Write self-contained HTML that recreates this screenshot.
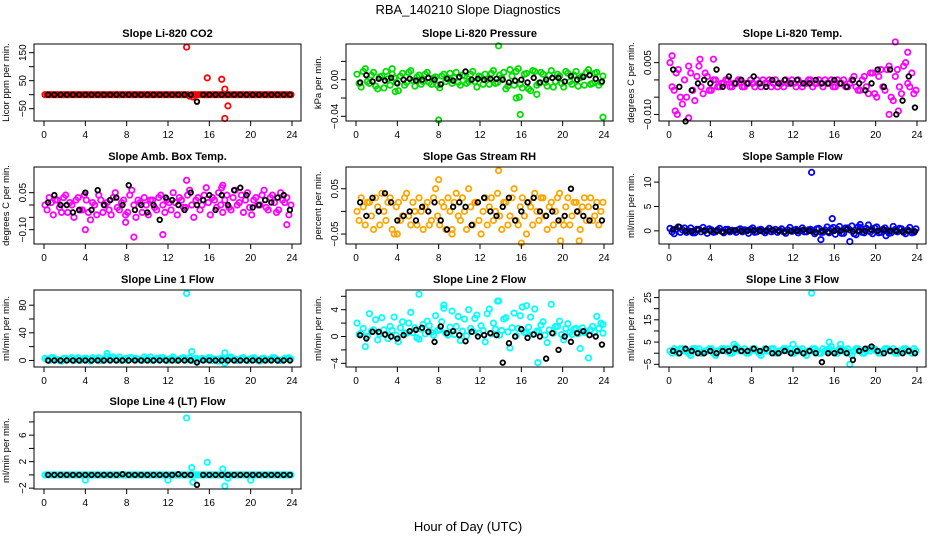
<!DOCTYPE html>
<html><head><meta charset="utf-8"><style>
html,body{margin:0;padding:0;background:#fff;}
svg{display:block;font-family:"Liberation Sans",Arial,sans-serif;}
</style></head><body>
<svg id="chart" width="936" height="540" viewBox="0 0 936 540" xmlns="http://www.w3.org/2000/svg">
<rect x="0" y="0" width="936" height="540" fill="#fff"/>
<text x="468" y="14" text-anchor="middle" font-size="13">RBA_140210  Slope Diagnostics</text>
<text x="468" y="531" text-anchor="middle" font-size="13">Hour of Day (UTC)</text>
</svg>
<script>
const hoursC=[0.1,0.5,0.9,1.3,1.7,2.1,2.5,2.9,3.3,3.7,4.1,4.5,4.9,5.3,5.7,6.1,6.5,6.9,7.3,7.7,8.1,8.5,8.9,9.3,9.7,10.1,10.5,10.9,11.3,11.7,12.1,12.5,12.9,13.3,13.7,14.1,14.5,14.9,15.3,15.7,16.1,16.5,16.9,17.3,17.7,18.1,18.5,18.9,19.3,19.7,20.1,20.5,20.9,21.3,21.7,22.1,22.5,22.9,23.3,23.7];
const hoursC2=[0.3,0.7,1.1,1.5,1.9,2.3,2.7,3.1,3.5,3.9,4.3,4.7,5.1,5.5,5.9,6.3,6.7,7.1,7.5,7.9,8.3,8.7,9.1,9.5,9.9,10.3,10.7,11.1,11.5,11.9,12.3,12.7,13.1,13.5,13.9,14.3,14.7,15.1,15.5,15.9,16.3,16.7,17.1,17.5,17.9,18.3,18.7,19.1,19.5,19.9,20.3,20.7,21.1,21.5,21.9,22.3,22.7,23.1,23.5,23.9];
const hoursK=[0.4,1.0,1.6,2.2,2.8,3.4,4.0,4.6,5.2,5.8,6.4,7.0,7.6,8.2,8.8,9.4,10.0,10.6,11.2,11.8,12.4,13.0,13.6,14.2,14.8,15.4,16.0,16.6,17.2,17.8,18.4,19.0,19.6,20.2,20.8,21.4,22.0,22.6,23.2,23.8];
const xTicks=[0,4,8,12,16,20,24];

const co2C=[0,0,0,0,0,0,0,0,0,0,0,0,0,0,0,0,0,0,0,0,0,0,0,0,0,0,0,0,0,0,0,0,0,0,0,-5,0,0,0,0,0,0,0,0,0,0,0,0,0,0,0,0,0,0,0,0,0,0,0,0];
const co2C2=[0,0,0,0,0,0,0,0,0,0,0,0,0,0,0,0,0,0,0,0,0,0,0,0,0,0,0,0,0,0,0,0,0,0,0,0,0,0,0,0,0,0,0,0,0,0,0,0,0,0,0,0,0,0,0,0,0,0,0,0];
const co2K=[0,0,0,0,0,0,0,0,0,0,0,0,0,0,0,0,0,0,0,0,0,0,0,0,-25,0,0,0,0,0,0,0,0,0,0,0,0,0,0,0];
const co2OutX=[13.8,15.8,17.2,17.5,17.8,17.5,14.4];
const co2OutY=[170,60,55,20,-40,-85,-8];

const presC=[0.006,-0.008,0.012,-0.004,0.008,-0.010,0.004,0.009,-0.006,0.002,-0.012,0.007,-0.003,0.010,-0.007,0.005,-0.002,0.008,-0.005,0.003,-0.009,0.006,0.001,-0.004,0.008,-0.006,0.004,-0.002,0.009,-0.008,0.003,0.006,-0.005,0.010,-0.003,0.002,-0.010,0.011,-0.006,0.012,-0.009,0.007,-0.012,0.009,-0.004,0.006,-0.007,0.010,-0.002,0.004,-0.008,0.007,-0.005,0.009,0.002,-0.006,0.011,-0.004,0.008,-0.003];
const presC2=[-0.004,0.009,-0.002,0.005,-0.007,0.003,-0.009,0.001,0.006,-0.003,0.004,-0.006,0.008,-0.001,0.003,-0.005,0.006,-0.003,0.002,-0.006,0.004,-0.002,0.007,0.002,-0.003,0.005,-0.004,0.006,-0.002,0.004,-0.005,0.001,0.007,-0.004,0.005,0.008,-0.007,0.004,0.009,-0.005,0.006,-0.010,0.010,-0.006,0.008,-0.003,0.005,-0.008,0.006,-0.004,0.009,-0.002,0.005,-0.007,0.004,0.008,-0.005,0.007,-0.006,0.004];
const presK=[-0.003,0.005,-0.002,0.001,-0.001,0.002,-0.004,0.000,0.001,-0.001,0.000,0.002,0.000,-0.005,0.001,-0.001,0.003,0.009,0.000,0.001,0.000,0.001,0.001,0.000,-0.003,-0.001,0.000,-0.003,0.002,-0.003,0.000,0.002,0.002,-0.002,0.004,0.000,0.003,0.005,0.001,-0.002];
const presOutX=[13.8,8.0,15.5,15.9,23.9,3.8,17.5,15.8,3.5];
const presOutY=[0.037,-0.044,-0.020,-0.038,-0.041,-0.013,-0.016,-0.019,0.012];

const tempC=[0.005,-0.003,0.003,-0.007,-0.005,0.002,-0.006,0.004,-0.004,0.001,-0.003,0.000,-0.002,-0.001,0.000,-0.002,-0.001,0.000,-0.002,-0.001,-0.001,0.000,-0.002,-0.001,0.000,-0.001,-0.002,-0.001,0.000,-0.001,-0.001,0.000,-0.002,-0.001,0.000,-0.001,0.000,-0.002,-0.001,0.000,-0.002,-0.001,0.000,-0.002,0.000,-0.002,-0.003,0.001,-0.004,0.002,-0.005,0.003,-0.003,0.004,-0.006,0.003,-0.004,0.005,-0.002,-0.004];
const tempC2=[-0.002,0.002,-0.005,0.000,0.004,-0.003,0.001,-0.002,0.002,-0.003,0.000,-0.002,-0.001,0.000,-0.002,-0.001,0.000,-0.002,-0.001,0.000,-0.002,-0.001,0.000,-0.001,-0.002,0.000,-0.001,-0.002,-0.001,0.000,-0.002,-0.001,-0.001,0.000,-0.002,-0.001,-0.001,0.000,-0.001,-0.002,0.000,-0.001,-0.002,-0.001,0.001,-0.003,0.000,-0.002,0.002,-0.004,0.001,-0.002,0.003,-0.005,0.001,-0.002,0.004,-0.001,0.002,-0.003];
const tempK=[0.003,-0.002,-0.012,-0.003,-0.001,0.000,-0.001,0.003,-0.002,0.001,-0.001,0.000,-0.001,0.001,-0.001,-0.002,0.000,-0.001,0.000,-0.001,0.000,-0.001,-0.001,0.000,-0.001,-0.001,0.000,-0.001,-0.002,0.000,-0.001,-0.003,-0.001,0.003,-0.002,0.003,-0.010,-0.006,0.001,-0.008];
const tempOutX=[21.9,23.1,0.3,1.9,21.3,0.8,3.0,4.3,22.2,0.6];
const tempOutY=[0.011,0.008,0.007,-0.011,-0.010,-0.010,0.006,0.006,-0.009,-0.009];

const ambC=[0.000,0.030,-0.040,0.020,-0.030,0.040,0.010,-0.050,0.030,-0.020,0.020,-0.060,0.000,0.040,-0.030,0.010,-0.040,0.050,-0.020,0.020,-0.030,0.060,-0.050,0.010,0.030,-0.040,0.020,-0.020,0.040,-0.030,0.010,0.050,-0.040,0.020,-0.010,0.060,-0.050,0.030,0.000,0.070,-0.040,0.020,0.050,-0.030,0.040,-0.020,0.060,0.010,-0.030,0.050,-0.040,0.030,0.000,0.060,-0.020,0.040,-0.030,0.050,0.010,-0.040];
const ambC2=[-0.020,0.010,0.020,-0.010,0.030,-0.030,0.000,0.020,-0.020,0.040,-0.030,0.010,-0.040,0.020,0.000,-0.020,0.030,-0.010,0.010,-0.040,0.040,0.000,0.020,-0.030,0.000,0.020,-0.010,0.030,0.000,0.020,-0.020,0.010,0.030,-0.010,0.040,0.000,0.020,-0.020,0.040,0.010,0.030,-0.010,0.000,0.020,-0.010,0.030,0.000,0.040,0.020,-0.010,0.020,0.000,0.040,-0.010,0.030,0.010,-0.020,0.020,0.030,0.000];
const ambK=[0.010,0.040,0.000,0.000,-0.030,-0.020,0.050,-0.020,0.060,0.000,0.020,0.030,0.000,0.080,-0.020,0.000,-0.030,0.000,-0.060,0.030,0.020,0.000,-0.020,0.050,0.000,0.020,0.040,-0.020,0.040,0.000,0.060,0.070,0.040,-0.010,0.000,0.020,0.010,0.030,0.040,-0.020];
const ambOutX=[13.8,8.7,11.5,17.3,4.0,7.9,17.2,23.5];
const ambOutY=[0.100,-0.130,-0.120,0.080,-0.100,-0.070,0.070,-0.080];

const rhC=[0.000,0.030,-0.030,0.020,-0.040,0.010,0.040,-0.020,0.030,-0.050,0.020,-0.010,0.040,-0.030,0.000,0.030,-0.040,0.020,-0.020,0.050,-0.030,0.010,0.030,-0.040,0.040,-0.020,0.000,0.050,-0.030,0.020,-0.050,0.030,0.010,-0.020,0.040,-0.040,0.020,-0.010,0.050,-0.030,0.030,-0.050,0.010,0.040,-0.020,0.030,-0.040,0.020,0.000,0.040,-0.030,0.030,-0.010,0.020,-0.040,0.030,0.010,-0.020,0.020,0.000];
const rhC2=[-0.020,0.010,0.020,-0.010,0.030,-0.030,0.000,0.020,-0.040,0.010,-0.020,0.030,-0.010,0.020,-0.030,0.000,0.010,-0.030,0.030,-0.010,0.020,-0.040,0.000,0.020,-0.010,0.030,-0.040,0.010,0.020,-0.020,0.000,-0.030,0.030,0.000,-0.010,0.020,-0.030,0.030,-0.020,0.010,-0.010,0.020,-0.030,0.000,0.030,-0.010,0.010,-0.030,0.030,-0.020,0.010,-0.030,0.020,0.000,0.010,-0.020,0.030,-0.010,-0.030,0.020];
const rhK=[0.020,-0.010,0.030,0.000,0.040,0.020,-0.020,-0.010,0.000,-0.020,0.010,0.000,0.020,-0.020,-0.040,0.010,0.020,0.010,-0.030,0.020,0.030,0.000,-0.010,0.010,0.030,-0.020,0.000,0.020,0.030,0.000,-0.010,0.000,-0.020,-0.010,0.050,0.000,-0.010,-0.020,0.010,-0.020];
const rhOutX=[13.8,16.0,8.0,9.3,4.0,19.8,21.6];
const rhOutY=[0.090,-0.070,0.070,-0.050,-0.050,-0.065,-0.065];

const flowC=[0.5,-0.6,0.8,0.2,-0.3,0.6,-0.4,0.3,0.7,-0.5,0.2,-0.2,0.5,-0.4,0.3,0.1,-0.3,0.4,0.2,-0.5,0.6,-0.2,0.3,-0.4,0.5,0.0,-0.3,0.4,-0.5,0.7,0.1,-0.4,0.6,-0.2,0.3,-0.6,0.5,-0.3,0.8,0.4,-0.7,0.9,-0.5,0.6,1.0,-0.8,0.7,-0.4,1.2,-0.6,0.8,-0.3,0.6,-0.5,0.9,-0.2,0.4,-0.6,0.7,-0.3];
const flowC2=[-0.2,0.4,-0.3,0.6,0.0,-0.4,0.3,-0.2,0.1,0.4,-0.3,0.2,-0.1,0.3,-0.2,0.0,0.2,-0.2,0.1,0.3,-0.3,0.2,-0.1,0.1,-0.2,0.3,0.1,-0.2,0.2,-0.1,0.3,0.0,-0.2,0.2,-0.1,0.4,-0.3,0.2,-0.4,0.7,0.3,-0.5,0.6,0.2,-0.6,0.8,-0.3,0.5,-0.2,0.6,-0.4,0.3,0.1,-0.4,0.3,0.5,-0.3,0.2,-0.4,0.4];
const flowK=[0.3,0.8,0.0,-0.1,0.2,0.0,0.0,0.0,-0.2,0.0,0.1,0.0,0.0,0.1,0.0,0.0,0.2,0.0,-0.2,0.0,0.0,0.2,0.0,-0.3,0.0,-0.2,0.0,0.0,0.3,-0.1,0.0,0.0,0.2,0.0,0.2,0.0,0.0,-0.1,0.0,-0.1];
const flowOutX=[13.8,15.8,17.5,14.7,18.5,21.0];
const flowOutY=[12.0,2.5,-2.2,-1.8,1.3,-1.0];

const l1C=[3,0,4,1,-1,3,2,0,4,1,3,-1,2,4,0,6,3,1,5,2,0,4,3,1,5,2,0,3,4,1,2,5,0,3,1,4,2,0,3,1,4,2,-1,3,0,5,2,1,4,0,3,2,-1,3,1,4,2,0,3,4];
const l1C2=[1,4,2,0,3,1,4,2,0,3,1,4,2,0,3,1,5,2,0,3,4,1,2,0,3,5,1,2,4,0,3,1,2,4,1,0,3,2,1,4,0,2,3,1,4,2,0,3,1,2,4,0,3,1,2,4,0,1,3,2];
const l1K=[0,0,0,0,0,0,0,0,0,0,0,0,0,0,0,0,0,0,0,0,0,0,0,0,-3,0,0,0,0,0,0,0,0,0,0,0,0,0,0,0];
const l1OutX=[13.8,14.3,6.1,17.5,17.5];
const l1OutY=[97,13,10,11,-4];

const l2C=[2.0,0.5,-1.5,3.4,1.0,-0.5,2.8,0.3,1.5,2.9,-0.8,2.2,0.5,3.6,1.3,-0.4,1.8,2.3,0.6,3.1,1.0,4.2,0.2,3.8,1.5,-0.6,2.6,4.0,0.8,3.2,1.6,-0.8,4.1,2.0,5.3,0.9,2.8,-1.7,3.5,1.2,4.4,0.5,2.9,4.1,0.7,2.2,-0.9,4.8,1.5,2.3,-0.5,1.9,0.3,1.2,-1.8,0.6,-3.2,1.5,3.0,2.0];
const l2C2=[0.3,1.2,0.0,0.8,2.5,0.4,1.0,-0.3,0.9,0.2,1.3,0.5,2.0,0.6,-0.2,1.1,0.4,1.6,0.2,0.9,2.2,0.5,1.4,0.3,3.0,0.8,0.1,1.2,2.7,0.5,0.9,3.4,0.4,1.1,0.2,2.6,0.7,1.3,0.1,3.1,0.6,1.4,0.3,0.8,1.7,0.2,1.0,0.5,1.5,0.3,1.2,0.6,1.1,0.4,1.3,0.8,1.0,0.6,1.2,0.5];
const l2K=[0.2,-0.3,0.7,0.7,0.3,0.0,-0.3,0.2,0.8,1.0,1.3,0.7,-0.8,1.5,0.5,0.8,0.2,-0.7,0.7,0.0,0.2,0.5,0.2,-3.9,-1.0,0.0,1.1,-0.2,0.3,0.0,-3.3,0.5,-2.0,0.0,-0.8,0.5,0.8,0.2,0.0,-1.2];
const l2OutX=[6.1,13.8,17.6,8.5,16.5,23.9];
const l2OutY=[6.3,5.3,-3.9,4.7,4.6,1.8];

const l3C=[1,2,0,2,1,-1,2,2,0,1,2,-1,1,2,2,0,3,1,2,0,2,1,-1,2,1,2,0,1,2,2,0,1,2,-1,1,2,0,2,1,3,0,2,1,2,-1,2,1,0,2,2,1,0,2,1,2,0,1,2,1,2];
const l3C2=[0,1,2,1,0,2,1,0,1,2,0,1,2,1,0,1,2,1,0,1,2,0,1,1,2,0,1,2,1,0,2,1,0,1,2,1,0,1,2,1,0,2,1,0,1,2,0,1,1,2,0,1,2,1,0,1,2,1,0,1];
const l3K=[1,0,2,1,0,0,1,0,1,1,2,1,1,2,1,2,0,0,1,0,1,0,1,0,-4,0,0,1,0,-3,1,2,3,1,0,1,1,0,1,0];
const l3OutX=[13.8,15.5,17.5,16.6,12.0,6.3];
const l3OutY=[27,5,-5,4,4,4];

const l4C=[0,0,0,0,0,0,0,0,0,0,0,0,0,0,0,0,0,0,0,0,0,0,0,0,0,0,0,0,0,0,0,0,0,0,0,0,0,0,0,0,0,0,0,0,0,0,0,0,0,0,0,0,0,0,0,0,0,0,0,0];
const l4C2=[0,0,0,0,0,0,0,0,0,0,0,0,0,0,0,0,0,0,0,0,0,0,0,0,0,0,0,0,0,0,0,0,0,0,0,0,0,0,0,0,0,0,0,0,0,0,0,0,0,0,0,0,0,0,0,0,0,0,0,0];
const l4K=[0,0,0,0,0,0,0,0,0,0,0,0,0.1,0,0,0,0,0,0,0,0,0.1,0,0,-1.5,0,0,0,0,0,0,0,0,0,0,0,0,0,0,0];
const l4OutX=[13.8,14.3,15.8,17.3,17.5,14.4,4.0,12.0,20.0,17.8];
const l4OutY=[8.6,1.1,1.9,0.9,-1.7,-1.1,-0.8,-0.8,-0.8,-0.5];

const neg=s=>s.replace('-','\u2212');
const panels=[
 {name:'co2',title:'Slope Li-820 CO2',ylab:'Licor ppm per min.',col:'#ff0000',c:co2C,c2:co2C2,k:co2K,ox:co2OutX,oy:co2OutY,dom:[-94,181],ticks:[-50,0,50,100,150],labs:[-50,50,150],fmt:v=>neg(String(v))},
 {name:'pressure',title:'Slope Li-820 Pressure',ylab:'kPa per min.',col:'#00dd00',c:presC,c2:presC2,k:presK,ox:presOutX,oy:presOutY,dom:[-0.0451,0.039],ticks:[-0.04,-0.02,0,0.02],labs:[-0.04,0],fmt:v=>neg(v.toFixed(2))},
 {name:'temp',title:'Slope Li-820 Temp.',ylab:'degrees C per min.',col:'#ff00ff',c:tempC,c2:tempC2,k:tempK,ox:tempOutX,oy:tempOutY,dom:[-0.0119,0.0104],ticks:[-0.01,-0.005,0,0.005],labs:[-0.01,0.005],fmt:v=>neg(v.toFixed(3))},
 {name:'amb-box-temp',title:'Slope Amb. Box Temp.',ylab:'degrees C per min.',col:'#ff00ff',c:ambC,c2:ambC2,k:ambK,ox:ambOutX,oy:ambOutY,dom:[-0.158,0.154],ticks:[-0.1,-0.05,0,0.05],labs:[-0.1,0.05],fmt:v=>neg(v.toFixed(2))},
 {name:'gas-stream-rh',title:'Slope Gas Stream RH',ylab:'percent per min.',col:'#ffa500',c:rhC,c2:rhC2,k:rhK,ox:rhOutX,oy:rhOutY,dom:[-0.072,0.098],ticks:[-0.05,0,0.05],labs:[-0.05,0.05],fmt:v=>neg(v.toFixed(2))},
 {name:'sample-flow',title:'Slope Sample Flow',ylab:'ml/min per min.',col:'#0000ff',c:flowC,c2:flowC2,k:flowK,ox:flowOutX,oy:flowOutY,dom:[-2.7,13.1],ticks:[0,5,10],labs:[0,5,10],fmt:v=>String(v)},
 {name:'line1-flow',title:'Slope Line 1 Flow',ylab:'ml/min per min.',col:'#00ffff',c:l1C,c2:l1C2,k:l1K,ox:l1OutX,oy:l1OutY,dom:[-9.5,102],ticks:[0,20,40,60,80],labs:[0,40,80],fmt:v=>String(v)},
 {name:'line2-flow',title:'Slope Line 2 Flow',ylab:'ml/min per min.',col:'#00ffff',c:l2C,c2:l2C2,k:l2K,ox:l2OutX,oy:l2OutY,dom:[-4.55,6.94],ticks:[-4,-2,0,2,4,6],labs:[-4,0,4],fmt:v=>neg(String(v))},
 {name:'line3-flow',title:'Slope Line 3 Flow',ylab:'ml/min per min.',col:'#00ffff',c:l3C,c2:l3C2,k:l3K,ox:l3OutX,oy:l3OutY,dom:[-6.2,28.4],ticks:[-5,0,5,10,15,20,25],labs:[-5,5,15,25],fmt:v=>neg(String(v))},
 {name:'line4-flow',title:'Slope Line 4 (LT) Flow',ylab:'ml/min per min.',col:'#00ffff',c:l4C,c2:l4C2,k:l4K,ox:l4OutX,oy:l4OutY,dom:[-2.13,9.5],ticks:[-2,0,2,4,6,8],labs:[-2,2,6],fmt:v=>neg(String(v))}
];
const NS='http://www.w3.org/2000/svg';
const svg=document.getElementById('chart');
function mk(tag,attrs,parent){const e=document.createElementNS(NS,tag);for(const a in attrs)e.setAttribute(a,attrs[a]);(parent||svg).appendChild(e);return e;}
const colL=[34,346,659], rowT=[44,167,290,412], W=267, H=77;
panels.forEach((p,i)=>{
 const L=colL[i%3], T=rowT[Math.floor(i/3)], B=T+H;
 const g=mk('g',{});
 
 
 const xs=h=>L+10+h*(248/24);
 const ys=v=>B-(v-p.dom[0])/(p.dom[1]-p.dom[0])*H;
 const t=mk('text',{x:L+W/2,y:T-7,'text-anchor':'middle','font-size':'11','font-weight':'bold'},g);t.textContent=p.title;
 
 
 const yl=mk('text',{x:0,y:0,transform:`translate(${L-25},${T+H/2}) rotate(-90)`,'text-anchor':'middle','font-size':'9.5'},g);yl.textContent=p.ylab;
 
 
 const drawPt=(h,v,col,name,r)=>{const c=mk('circle',{cx:xs(h),cy:ys(v),r:r,fill:'none',stroke:col,'stroke-width':1.8},g);
  
  };
 p.c.forEach((v,j)=>drawPt(hoursC[j],v,p.col,'point-'+p.name,2.7));
 p.c2.forEach((v,j)=>drawPt(hoursC2[j],v,p.col,'point-'+p.name,2.7));
 p.ox.forEach((h,j)=>drawPt(h,p.oy[j],p.col,'outlier-'+p.name,2.7));
 p.k.forEach((v,j)=>drawPt(hoursK[j],v,'#000','reference-point',2.3));
 mk('rect',{x:L,y:T,width:W,height:H,fill:'none',stroke:'#000','stroke-width':1},g);
 xTicks.forEach(h=>{const x=xs(h);mk('line',{x1:x,y1:B,x2:x,y2:B+5,stroke:'#000'},g);
  const tl=mk('text',{x:x,y:B+17,'text-anchor':'middle','font-size':'10'},g);tl.textContent=h;
  
  });
 p.ticks.forEach(v=>{const y=ys(v);mk('line',{x1:L-5,y1:y,x2:L,y2:y,stroke:'#000'},g);});
 p.labs.forEach(v=>{const y=ys(v);const tl=mk('text',{x:0,y:0,transform:`translate(${L-8},${y}) rotate(-90)`,'text-anchor':'middle','font-size':'10'},g);tl.textContent=p.fmt(v);
  
  });
});
</script>
</body></html>
